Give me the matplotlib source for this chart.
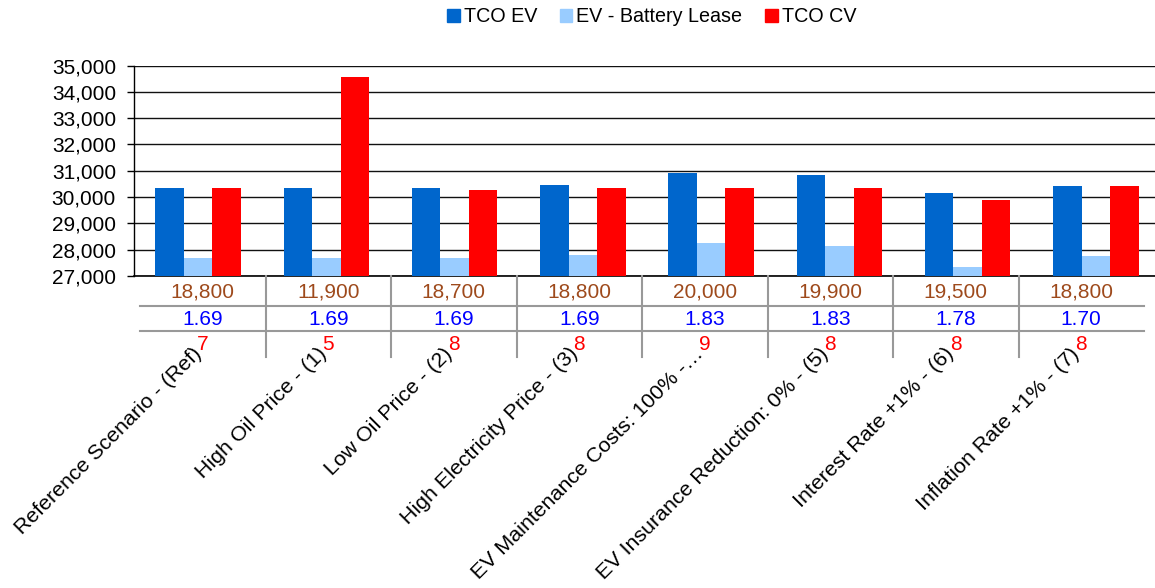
import matplotlib
matplotlib.use("Agg")
import matplotlib.pyplot as plt
import numpy as np
from matplotlib.patches import Patch

plt.rcParams['font.family'] = ['Liberation Sans', 'DejaVu Sans']

# data
categories = ["Reference Scenario - (Ref)", "High Oil Price - (1)", "Low Oil Price - (2)",
              "High Electricity Price - (3)", "EV Maintenance Costs: 100% -\u2026",
              "EV Insurance Reduction: 0% - (5)", "Interest Rate +1% - (6)",
              "Inflation Rate +1% - (7)"]
tco_ev = [30350, 30350, 30350, 30470, 30920, 30820, 30160, 30410]
battery_lease = [27700, 27700, 27700, 27800, 28250, 28150, 27330, 27750]
tco_cv = [30350, 34560, 30260, 30350, 30350, 30350, 29900, 30410]
row_values = ["18,800", "11,900", "18,700", "18,800", "20,000", "19,900", "19,500", "18,800"]
row_ratio = ["1.69", "1.69", "1.69", "1.69", "1.83", "1.83", "1.78", "1.70"]
row_years = ["7", "5", "8", "8", "9", "8", "8", "8"]
yticks = np.arange(27000, 35001, 1000)

c_ev = "#0066CC"
c_lease = "#99CCFF"
c_cv = "#FF0000"

W, H = 1155, 588
fig = plt.figure(figsize=(W / 100, H / 100), dpi=100)

# main bar axes (category area runs slightly past the right edge, like the source)
left, right, top, bottom = 134, 1160, 65.5, 276
ax = fig.add_axes([left / W, 1 - bottom / H, (right - left) / W, (bottom - top) / H])
x = np.arange(len(categories))
bw = 1 / 4.5
ax.bar(x - bw, tco_ev, bw, color=c_ev, zorder=3, label="TCO EV")
ax.bar(x, battery_lease, bw, color=c_lease, zorder=3, label="EV - Battery Lease")
ax.bar(x + bw, tco_cv, bw, color=c_cv, zorder=3, label="TCO CV")
ax.set_xlim(-0.5, len(categories) - 0.5)
ax.set_ylim(27000, 35000)
ax.set_yticks(yticks)
ax.set_yticklabels([f"{v:,}" for v in yticks], fontsize=15)
ax.set_xticks([])
ax.yaxis.grid(True, color="#111111", lw=1.0, zorder=0)
ax.tick_params(axis="y", length=5, width=1, pad=8, color="black")
for s in ["top", "right"]:
    ax.spines[s].set_visible(False)
ax.spines["left"].set_color("black")
ax.spines["bottom"].set_color("black")
ax.spines["left"].set_linewidth(1.0)
ax.spines["bottom"].set_linewidth(1.2)

# data table below the bars
t_left, t_right, t_top, t_bot = 140, 1144, 276, 357
tab = fig.add_axes([t_left / W, 1 - t_bot / H, (t_right - t_left) / W, (t_bot - t_top) / H])
tab.set_xlim(0, len(categories))
tab.set_ylim(t_bot, t_top)
tab.axis("off")
grey = "#999999"
for yl in [306, 331]:
    tab.plot([0, len(categories)], [yl, yl], color=grey, lw=1.5, clip_on=False)
for i in range(1, len(categories)):
    tab.plot([i, i], [t_top, t_bot], color=grey, lw=1.5, clip_on=False)
for i in range(len(categories)):
    tab.text(i + 0.5, 292.5, row_values[i], color="#9E4A1C", fontsize=15,
             ha="center", va="center", clip_on=False)
    tab.text(i + 0.5, 319.5, row_ratio[i], color="#0000FF", fontsize=15,
             ha="center", va="center", clip_on=False)
    tab.text(i + 0.5, 344.5, row_years[i], color="#FF0000", fontsize=15,
             ha="center", va="center", clip_on=False)
    tab.text(i + 0.5 - 0.035, 351, categories[i], color="black", fontsize=15.4,
             rotation=45, rotation_mode="anchor", ha="right", va="center",
             clip_on=False)

handles = [Patch(color=c_ev), Patch(color=c_lease), Patch(color=c_cv)]
fig.legend(handles, ["TCO EV", "EV - Battery Lease", "TCO CV"], loc="center",
           bbox_to_anchor=(651.5 / W, 1 - 17 / H), ncol=3, frameon=False,
           fontsize=14.2, handlelength=0.65, handleheight=0.65, handletextpad=0.2,
           columnspacing=1.15, borderpad=0)

fig.savefig("out.png", dpi=100)
